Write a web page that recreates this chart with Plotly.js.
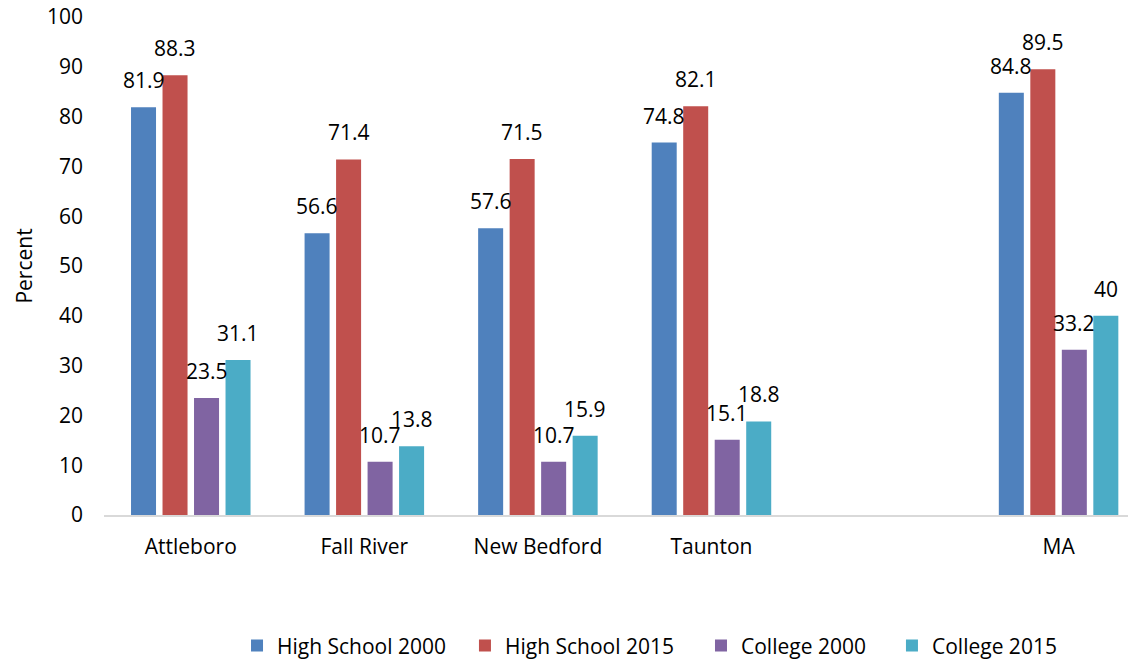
<!DOCTYPE html>
<html>
<head>
<meta charset="utf-8">
<script src="https://cdn.plot.ly/plotly-3.0.1.min.js"></script>
<style>
  html, body { margin: 0; padding: 0; background: #ffffff; }
  #chart { width: 1128px; height: 663px; }
</style>
</head>
<body>
<div id="chart"></div>
<script>
// Educational attainment by city, share of adults (percent)
const categories = ["Attleboro", "Fall River", "New Bedford", "Taunton", " ", "MA"];
const highSchool2000 = [81.9, 56.6, 57.6, 74.8, null, 84.8];
const highSchool2015 = [88.3, 71.4, 71.5, 82.1, null, 89.5];
const college2000 = [23.5, 10.7, 10.7, 15.1, null, 33.2];
const college2015 = [31.1, 13.8, 15.9, 18.8, null, 40];
const seriesNames = ["High School 2000", "High School 2015", "College 2000", "College 2015"];
const yTicks = [0, 10, 20, 30, 40, 50, 60, 70, 80, 90, 100];

const seriesValues = [highSchool2000, highSchool2015, college2000, college2015];
const colors = ["#4F81BD", "#C0504D", "#8064A2", "#4BACC6"];
const legendIds = ["legend", "legend2", "legend3", "legend4"];
const legendX = [0.1299, 0.3525, 0.583, 0.7695];

const FONT = "Open Sans, Noto Sans, sans-serif";
const BARGAP = 0.274;
const GROUPGAP = 0.206;

const traces = seriesValues.map((vals, k) => ({
  type: "bar",
  name: seriesNames[k],
  x: categories,
  y: vals,
  marker: { color: colors[k], line: { width: 0 } },
  legend: legendIds[k],
  hoverinfo: "x+y+name"
}));

// value labels sit above each bar, offset within the group by the bar slot width
const slot = (1 - BARGAP) / seriesValues.length;
const annotations = [];
seriesValues.forEach((vals, k) => {
  vals.forEach((v, i) => {
    if (v === null) return;
    annotations.push({
      x: i + (k - (seriesValues.length - 1) / 2) * slot,
      y: v,
      xref: "x",
      yref: "y",
      text: String(v),
      showarrow: false,
      xanchor: "center",
      yanchor: "bottom",
      yshift: 11,
      font: { family: FONT, size: 21, color: "#000000" }
    });
  });
});

const legendBase = {
  orientation: "h",
  xanchor: "left",
  yanchor: "middle",
  y: -0.263,
  bgcolor: "rgba(0,0,0,0)",
  font: { family: FONT, size: 21, color: "#000000" },
  itemclick: false,
  itemdoubleclick: false
};

const layout = {
  width: 1128,
  height: 663,
  margin: { l: 104, r: 0, t: 17, b: 148, pad: 0, autoexpand: false },
  paper_bgcolor: "#ffffff",
  plot_bgcolor: "#ffffff",
  font: { family: FONT, size: 21, color: "#000000" },
  barmode: "group",
  bargap: BARGAP,
  bargroupgap: GROUPGAP,
  showlegend: true,
  xaxis: {
    type: "category",
    categoryorder: "array",
    categoryarray: categories,
    range: [-0.5, 5.4],
    showline: true,
    linecolor: "#d9d9d9",
    linewidth: 1.5,
    showgrid: false,
    zeroline: false,
    ticks: "",
    ticklabelstandoff: 12,
    tickfont: { family: FONT, size: 21, color: "#000000" },
    fixedrange: true
  },
  yaxis: {
    range: [0, 100],
    tickvals: yTicks,
    ticktext: yTicks.map(String),
    showgrid: false,
    zeroline: false,
    showline: false,
    ticks: "",
    ticklabelstandoff: 20,
    tickfont: { family: FONT, size: 21, color: "#000000" },
    title: { text: "Percent", standoff: 8, font: { family: FONT, size: 21, color: "#000000" } },
    fixedrange: true
  },
  annotations: annotations,
  legend: Object.assign({}, legendBase, { x: legendX[0] }),
  legend2: Object.assign({}, legendBase, { x: legendX[1] }),
  legend3: Object.assign({}, legendBase, { x: legendX[2] }),
  legend4: Object.assign({}, legendBase, { x: legendX[3] })
};

Plotly.newPlot("chart", traces, layout, { displayModeBar: false, responsive: false });
</script>
</body>
</html>
